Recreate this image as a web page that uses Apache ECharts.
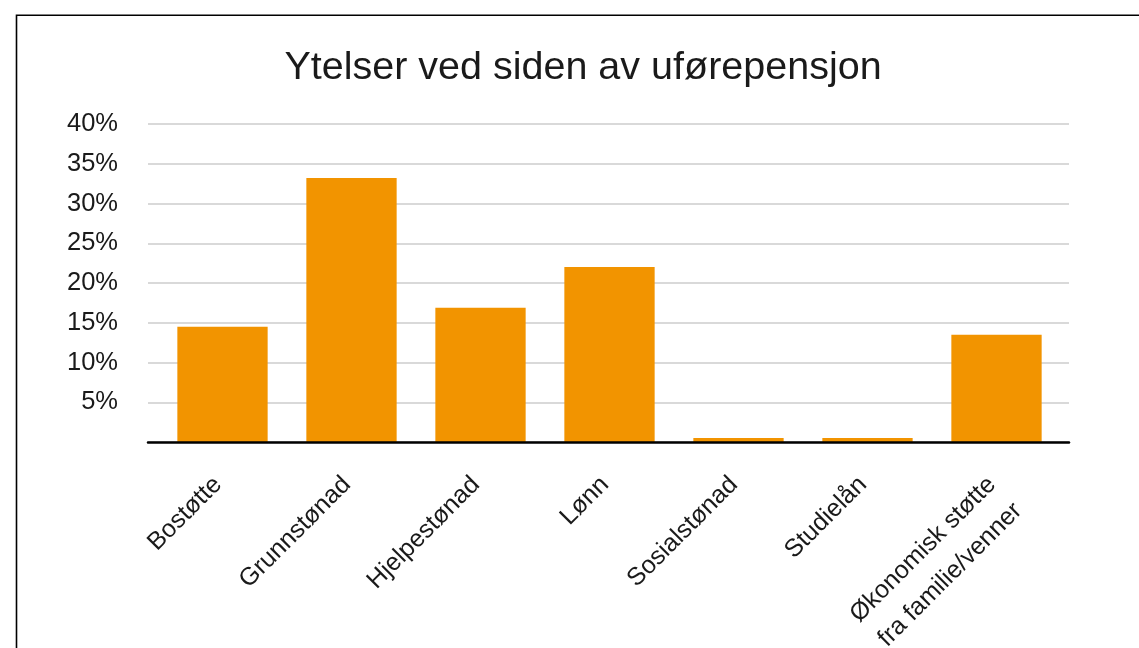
<!DOCTYPE html>
<html>
<head>
<meta charset="utf-8">
<script src="https://cdn.jsdelivr.net/npm/echarts@6/dist/echarts.min.js"></script>
<style>
html,body{margin:0;padding:0;background:#fff;}
#chart{width:1139px;height:648px;}
</style>
</head>
<body>
<div id="chart"></div>
<script>
const titleText = 'Ytelser ved siden av uførepensjon';
const categories = ['Bostøtte', 'Grunnstønad', 'Hjelpestønad', 'Lønn', 'Sosialstønad', 'Studielån', 'Økonomisk støtte\nfra familie/venner'];
const shares = [14.5, 33.2, 16.9, 22.0, 0.5, 0.5, 13.5];
const yTicks = [0, 5, 10, 15, 20, 25, 30, 35, 40];

const FONT = 'Liberation Sans, Arial, Helvetica, sans-serif';

const chart = echarts.init(document.getElementById('chart'));
chart.setOption({
  backgroundColor: '#fff',
  animation: false,
  title: {
    text: titleText,
    left: 578,
    top: 43,
    textAlign: 'center',
    textStyle: { fontFamily: FONT, fontSize: 39.5, fontWeight: 'normal', color: '#1a1a1a', lineHeight: 40 }
  },
  graphic: [{
    type: 'rect',
    shape: { x: 16.5, y: 15.2, width: 1300, height: 800 },
    style: { fill: 'none', stroke: '#000', lineWidth: 1.6 },
    silent: true
  }],
  grid: [
    { left: 148, right: 70, top: 124, bottom: 206, containLabel: false, outerBoundsMode: 'none' },
    { left: 158, right: 78, top: 124, bottom: 206, containLabel: false, outerBoundsMode: 'none' }
  ],
  xAxis: [
    {
      gridIndex: 0, type: 'value', min: 0, max: 1, z: 5,
      axisLine: { show: true, onZero: false, lineStyle: { color: '#000', width: 2.5 } },
      axisTick: { show: false }, axisLabel: { show: false }, splitLine: { show: false }
    },
    {
      gridIndex: 1, type: 'category', data: categories,
      axisLine: { show: false }, axisTick: { show: false },
      axisLabel: {
        interval: 0, rotate: 45, margin: 8, padding: [0, 25, 0, 0],
        verticalAlign: 'top',
        fontFamily: FONT, fontSize: 25, color: '#1a1a1a', lineHeight: 37
      }
    }
  ],
  yAxis: [
    {
      gridIndex: 0, type: 'value', min: yTicks[0], max: yTicks[yTicks.length - 1], interval: 5,
      axisLine: { show: false }, axisTick: { show: false },
      axisLabel: {
        margin: 30, fontFamily: FONT, fontSize: 25.5, color: '#1a1a1a',
        formatter: v => (v === 0 ? '' : v + '%')
      },
      splitLine: { show: true, lineStyle: { color: '#d9d9d9', width: 2 } }
    },
    {
      gridIndex: 1, type: 'value', min: yTicks[0], max: yTicks[yTicks.length - 1], show: false
    }
  ],
  series: [{
    type: 'bar', xAxisIndex: 1, yAxisIndex: 1,
    data: shares, barCategoryGap: '30%',
    itemStyle: { color: '#f29400' }
  }]
});
</script>
</body>
</html>
